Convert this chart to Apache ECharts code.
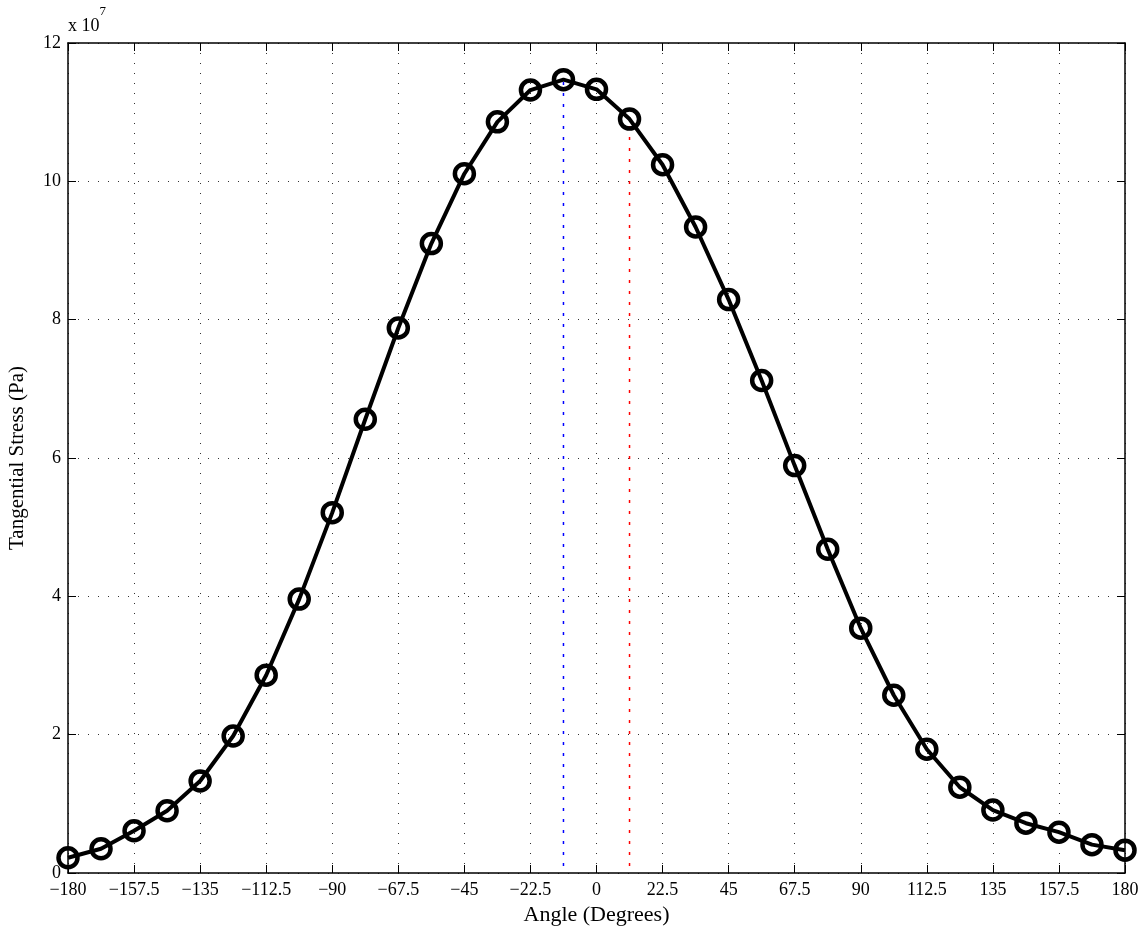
<!DOCTYPE html>
<html>
<head>
<meta charset="utf-8">
<script src="https://cdn.jsdelivr.net/npm/echarts@6/dist/echarts.min.js"></script>
<style>
  html, body { margin: 0; padding: 0; background: #fff; }
  #chart { width: 1148px; height: 930px; }
</style>
</head>
<body>
<div id="chart"></div>
<script>
// angle (deg) and tangential stress (x 1e7 Pa)
var angles = [-180, -168.75, -157.5, -146.25, -135, -123.75, -112.5, -101.25, -90, -78.75, -67.5,
  -56.25, -45, -33.75, -22.5, -11.25, 0, 11.25, 22.5, 33.75, 45, 56.25, 67.5, 78.75, 90,
  101.25, 112.5, 123.75, 135, 146.25, 157.5, 168.75, 180];
var stress = [0.22, 0.35, 0.61, 0.90, 1.33, 1.98, 2.86, 3.96, 5.21, 6.56, 7.88,
  9.10, 10.11, 10.86, 11.32, 11.47, 11.33, 10.90, 10.24, 9.34, 8.29, 7.12, 5.89, 4.68, 3.54,
  2.57, 1.79, 1.24, 0.91, 0.72, 0.59, 0.41, 0.33];
var xTicks = [-180, -157.5, -135, -112.5, -90, -67.5, -45, -22.5, 0, 22.5, 45, 67.5, 90, 112.5, 135, 157.5, 180];
var yTicks = [0, 2, 4, 6, 8, 10, 12];
// vertical marker lines
var blueLine = [[-11.25, 0.1], [-11.25, 11.45]];
var redLine = [[11.25, 0.1], [11.25, 10.85]];

var chart = echarts.init(document.getElementById('chart'));

var font = 'Liberation Serif, Times New Roman, serif';
var tickLen = 8;

function fmtX(v) {
  var s = String(v);
  return s.charAt(0) === '-' ? '\u2212' + s.slice(1) : s;
}

var option = {
  backgroundColor: '#fff',
  animation: false,
  textStyle: { fontFamily: font },
  grid: { left: 68, right: 23, top: 43, bottom: 57, containLabel: false, outerBoundsMode: 'none' },
  graphic: [{
    type: 'text',
    left: 68, top: 5,
    style: {
      text: '{a|x 10}{b|7}',
      rich: {
        a: { fontFamily: font, fontSize: 18, fill: '#000', padding: [12, 0, 0, 0] },
        b: { fontFamily: font, fontSize: 13, fill: '#000', verticalAlign: 'top' }
      }
    }
  }],
  xAxis: [{
    type: 'value', min: -180, max: 180, interval: 22.5,
    name: 'Angle (Degrees)', nameLocation: 'middle', nameGap: 31,
    nameTextStyle: { fontFamily: font, fontSize: 22, color: '#000' },
    axisLine: { onZero: false, lineStyle: { color: '#000', width: 1.5 } },
    axisTick: { inside: true, length: tickLen, lineStyle: { color: '#000' } },
    axisLabel: { fontFamily: font, fontSize: 18, color: '#000', margin: 8, formatter: fmtX,
      customValues: xTicks },
    splitLine: { show: true, lineStyle: { color: '#333', type: [1, 9], width: 1 } }
  }, {
    type: 'value', min: -180, max: 180, interval: 22.5, position: 'top',
    axisLine: { show: true, onZero: false, lineStyle: { color: '#000', width: 1.5 } },
    axisTick: { inside: true, length: tickLen, lineStyle: { color: '#000' } },
    axisLabel: { show: false }, splitLine: { show: false }
  }],
  yAxis: [{
    type: 'value', min: 0, max: 12, interval: 2,
    name: 'Tangential Stress (Pa)', nameLocation: 'middle', nameGap: 40,
    nameTextStyle: { fontFamily: font, fontSize: 21, color: '#000' },
    axisLine: { show: true, onZero: false, lineStyle: { color: '#000', width: 1.5 } },
    axisTick: { show: true, inside: true, length: tickLen, lineStyle: { color: '#000' } },
    axisLabel: { fontFamily: font, fontSize: 18, color: '#000', margin: 7, customValues: yTicks },
    splitLine: { show: true, lineStyle: { color: '#333', type: [1, 9], width: 1 } }
  }, {
    type: 'value', min: 0, max: 12, interval: 2, position: 'right',
    axisLine: { show: true, onZero: false, lineStyle: { color: '#000', width: 1.5 } },
    axisTick: { show: true, inside: true, length: tickLen, lineStyle: { color: '#000' } },
    axisLabel: { show: false }, splitLine: { show: false }
  }],
  series: [{
    type: 'line', data: blueLine, symbol: 'none', silent: true,
    lineStyle: { color: '#0000ff', width: 1.5, type: [3, 8] }, z: 1
  }, {
    type: 'line', data: redLine, symbol: 'none', silent: true,
    lineStyle: { color: '#ff0000', width: 1.5, type: [3, 8] }, z: 1
  }, {
    type: 'line',
    data: angles.map(function (a, i) { return [a, stress[i]]; }),
    symbol: 'circle', symbolSize: 19,
    itemStyle: { color: 'rgba(255,255,255,0)', borderColor: '#000', borderWidth: 4.5 },
    lineStyle: { color: '#000', width: 4 },
    z: 3
  }]
};

chart.setOption(option);
</script>
</body>
</html>
